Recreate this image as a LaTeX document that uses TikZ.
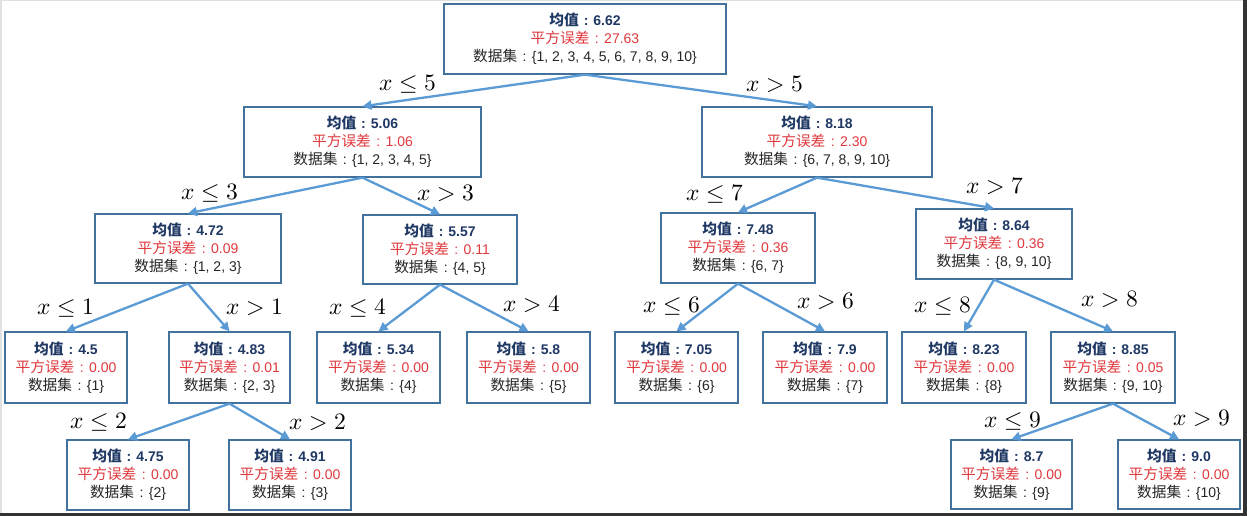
\documentclass[tikz,border=0pt]{standalone}
\usepackage{fontspec}
\usepackage{unicode-math}
\setmainfont{Liberation Sans}
\setmathfont{Latin Modern Math}
\newfontfamily\cjk[Scale=1.05]{Noto Sans CJK SC}
\newcommand{\cc}{\makebox[1.05em][c]{:}}
\usetikzlibrary{arrows.meta}
\definecolor{navy}{HTML}{1F3864}
\definecolor{errred}{HTML}{E0393E}
\definecolor{boxc}{HTML}{41719C}
\definecolor{edgec}{HTML}{5B9BD5}
\definecolor{txt}{HTML}{262626}
\newcommand{\tnode}[8]{\node[tbox, minimum width=#4pt, minimum height=#5pt] (#1) at (#2,#3) {{\color{navy}\bfseries{\cjk 均值}\cc#6}\\{\color{errred}{\cjk 平方误差}\cc#7}\\{\color{txt}{\cjk 数据集}\cc\{#8\}}};}
\tikzset{
  tbox/.style={draw=boxc, line width=1.3pt, fill=white, align=center, inner sep=0pt, font=\fontsize{14}{18}\selectfont},
  edge/.style={draw=edgec, line width=2.3pt, -{Triangle[length=9pt,width=9pt]}},
  lab/.style={font=\fontsize{23.5}{23.5}\selectfont, inner sep=0pt, text=black}
}
\begin{document}
\begin{tikzpicture}[x=1pt,y=-1pt]
\useasboundingbox (0,0) rectangle (1247,516);
\fill[white] (0,0) rectangle (1247,516);
% frame edges
\fill[black!12] (0,0) rectangle (1247,1.5);
\fill[black!12] (0,0) rectangle (1.5,516);
\fill[black!80] (1243,0) rectangle (1247,516);
\fill[black!80] (0,513) rectangle (1247,516);
% nodes
\tnode{root}{585}{39}{282}{70}{6.62}{27.63}{1, 2, 3, 4, 5, 6, 7, 8, 9, 10}
\tnode{a}{362.5}{142}{237}{70}{5.06}{1.06}{1, 2, 3, 4, 5}
\tnode{b}{817}{142}{230}{70}{8.18}{2.30}{6, 7, 8, 9, 10}
\tnode{c}{188}{248.5}{186}{69}{4.72}{0.09}{1, 2, 3}
\tnode{d}{440}{249.5}{154}{69}{5.57}{0.11}{4, 5}
\tnode{e}{738}{248}{154}{70}{7.48}{0.36}{6, 7}
\tnode{f}{994}{244}{156}{70}{8.64}{0.36}{8, 9, 10}
\tnode{g}{66}{367.5}{122}{71}{4.5}{0.00}{1}
\tnode{h}{229.5}{367.5}{121}{71}{4.83}{0.01}{2, 3}
\tnode{i}{378.5}{367.5}{123}{71}{5.34}{0.00}{4}
\tnode{j}{528.5}{367.5}{123}{71}{5.8}{0.00}{5}
\tnode{k}{676.5}{367.5}{123}{71}{7.05}{0.00}{6}
\tnode{l}{825}{367.5}{124}{71}{7.9}{0.00}{7}
\tnode{m}{964}{367.5}{124}{71}{8.23}{0.00}{8}
\tnode{n}{1113}{367.5}{124}{71}{8.85}{0.05}{9, 10}
\tnode{o}{128}{475}{122}{70}{4.75}{0.00}{2}
\tnode{p}{290}{475}{122}{70}{4.91}{0.00}{3}
\tnode{q}{1011.5}{474.5}{121}{69}{8.7}{0.00}{9}
\tnode{r}{1179}{474.5}{122}{69}{9.0}{0.00}{10}
% edges
\draw[edge] (root.south) -- (a.north);
\draw[edge] (root.south) -- (b.north);
\draw[edge] (a.south) -- (c.north);
\draw[edge] (a.south) -- (d.north);
\draw[edge] (b.south) -- (e.north);
\draw[edge] (b.south) -- (f.north);
\draw[edge] (c.south) -- (g.north);
\draw[edge] (c.south) -- (h.north);
\draw[edge] (d.south) -- (i.north);
\draw[edge] (d.south) -- (j.north);
\draw[edge] (e.south) -- (k.north);
\draw[edge] (e.south) -- (l.north);
\draw[edge] (f.south) -- (m.north);
\draw[edge] (f.south) -- (n.north);
\draw[edge] (h.south) -- (o.north);
\draw[edge] (h.south) -- (p.north);
\draw[edge] (n.south) -- (q.north);
\draw[edge] (n.south) -- (r.north);
% labels
\node[lab] (l1) at (408,84) {$x\le 5$};
\node[lab] (l2) at (775,84) {$x> 5$};
\node[lab] (l3) at (210,193) {$x\le 3$};
\node[lab] (l4) at (446,193) {$x> 3$};
\node[lab] (l5) at (715,194) {$x\le 7$};
\node[lab] (l6) at (995,186) {$x> 7$};
\node[lab] (l7) at (66,308) {$x\le 1$};
\node[lab] (l8) at (255,307) {$x> 1$};
\node[lab] (l9) at (358,308) {$x\le 4$};
\node[lab] (l10) at (532,304) {$x> 4$};
\node[lab] (l11) at (672,306) {$x\le 6$};
\node[lab] (l12) at (826,301) {$x> 6$};
\node[lab] (l13) at (943,306) {$x\le 8$};
\node[lab] (l14) at (1110,299) {$x> 8$};
\node[lab] (l15) at (99,422) {$x\le 2$};
\node[lab] (l16) at (318,422) {$x> 2$};
\node[lab] (l17) at (1013,421) {$x\le 9$};
\node[lab] (l18) at (1202,418) {$x> 9$};
\end{tikzpicture}
\end{document}
